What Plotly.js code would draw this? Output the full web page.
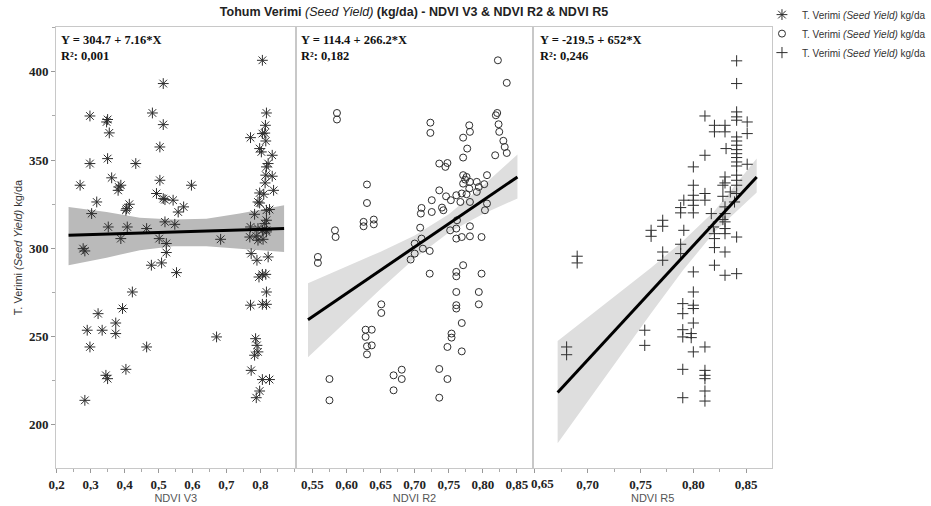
<!DOCTYPE html>
<html><head><meta charset="utf-8">
<script src="https://cdn.plot.ly/plotly-3.0.1.min.js"></script>
<style>html,body{margin:0;padding:0;background:#fff}#chart{width:931px;height:506px}</style>
</head><body><div id="chart"></div>
<script>
// ---- Data ----
const seriesName = 'T. Verimi <i>(Seed Yield)</i> kg/da';
const panelTitles = ['NDVI V3', 'NDVI R2', 'NDVI R5'];
const equations = ['Y = 304.7 + 7.16*X', 'Y = 114.4 + 266.2*X', 'Y = -219.5 + 652*X'];
const rSquared = ['R²: 0,001', 'R²: 0,182', 'R²: 0,246'];

// Tick positions / labels of each panel
const v3Ticks = [0.2, 0.3, 0.4, 0.5, 0.6, 0.7, 0.8];
const v3TickText = ['0,2', '0,3', '0,4', '0,5', '0,6', '0,7', '0,8'];
const r2Ticks = [0.55, 0.60, 0.65, 0.70, 0.75, 0.80, 0.85];
const r2TickText = ['0,55', '0,60', '0,65', '0,70', '0,75', '0,80', '0,85'];
const r5Ticks = [0.65, 0.70, 0.75, 0.80, 0.85];
const r5TickText = ['', '0,70', '0,75', '0,80', '0,85'];
const r5FirstLabel = '0,65';   // drawn just right of its tick, as in the reference
const yTicks = [200, 250, 300, 350, 400];

const v3X = [0.806,0.514,0.298,0.350,0.347,0.355,0.482,0.514,0.504,0.818,0.815,0.806,0.813,0.816,0.771,0.798,0.803,0.835,0.823,0.818,0.835,0.816,0.814,0.839,0.798,0.810,0.793,0.798,0.818,0.827,0.783,0.818,0.771,0.793,0.806,0.818,0.298,0.350,0.433,0.504,0.362,0.269,0.389,0.383,0.381,0.597,0.494,0.514,0.519,0.543,0.318,0.414,0.406,0.404,0.574,0.558,0.303,0.519,0.548,0.352,0.408,0.465,
  0.278,0.283,0.389,0.502,0.523,0.523,0.509,0.479,0.553,0.683,0.769,0.788,0.793,0.808,0.818,0.813,0.773,0.790,0.823,0.796,0.806,0.816,0.818,0.771,0.806,0.818,0.423,0.394,0.322,0.374,0.290,0.334,0.374,0.298,0.465,0.671,0.786,0.790,0.793,0.783,0.773,0.404,0.345,0.350,0.806,0.827,0.798,0.788,0.283];
const v3Y = [406.6,393.4,375.0,373.0,371.6,365.4,376.7,370.1,357.4,376.7,369.7,365.0,365.3,360.8,362.7,356.5,354.6,352.7,348.0,346.1,340.8,341.4,337.0,332.8,331.3,330.6,326.2,325.6,321.5,321.9,319.2,315.8,312.0,311.1,310.1,310.1,348.0,350.8,348.0,338.5,339.9,335.7,335.7,334.7,332.8,335.7,331.0,328.1,327.5,327.2,326.2,324.9,322.4,321.5,323.4,320.5,319.6,314.9,313.5,312.0,312.0,311.1,
  299.7,298.4,305.4,305.4,302.6,297.5,291.6,290.3,286.1,305.0,306.3,306.9,304.5,305.0,309.2,313.9,296.9,293.1,295.0,283.6,285.1,285.1,275.1,267.6,268.1,268.1,275.1,265.7,262.8,257.5,253.4,253.4,251.5,243.9,243.9,249.6,248.6,244.8,241.1,239.2,230.6,231.2,227.8,225.9,225.4,225.4,218.9,215.1,213.6];

const r2X = [0.822,0.835,0.586,0.586,0.821,0.819,0.823,0.824,0.830,0.832,0.835,0.818,0.723,0.723,0.780,0.781,0.771,0.777,0.771,0.736,0.745,0.748,0.630,0.630,0.771,0.774,0.771,0.776,0.806,0.802,0.791,0.794,0.791,0.781,0.780,0.769,0.776,0.781,0.736,0.746,0.753,0.761,0.767,0.725,0.740,0.742,0.725,0.710,0.709,0.806,0.803,0.625,0.640,0.625,0.640,0.583,0.584,0.708,0.762,0.781,0.798,0.752,0.761,0.781,0.761,0.769,
  0.558,0.558,0.700,0.710,0.712,0.700,0.694,0.722,0.771,0.761,0.761,0.798,0.722,0.761,0.794,0.761,0.761,0.794,0.651,0.651,0.769,0.628,0.637,0.628,0.754,0.754,0.630,0.637,0.630,0.748,0.769,0.681,0.669,0.681,0.736,0.748,0.575,0.669,0.575,0.736];
const r2Y = [406.6,393.8,376.7,373.0,376.7,375.4,370.3,366.0,360.9,357.4,354.0,352.7,371.2,365.4,369.7,366.0,362.7,356.5,351.4,348.0,346.1,348.3,336.1,325.6,341.4,338.9,336.6,340.4,341.4,336.3,337.6,334.7,331.9,337.6,333.8,331.0,330.6,326.2,332.8,329.4,327.2,330.0,326.2,327.2,323.0,321.5,320.5,322.8,319.6,325.3,321.5,314.9,316.2,312.4,313.5,310.1,306.3,311.6,315.8,312.4,306.3,310.1,305.4,306.7,311.1,306.3,
  295.0,291.6,302.6,305.4,299.7,296.9,293.5,298.4,290.3,286.5,284.0,285.5,285.5,275.1,275.1,267.6,265.7,268.1,268.1,263.2,257.5,253.7,253.7,249.6,251.5,249.2,244.3,244.8,239.7,243.9,241.4,231.0,227.8,225.7,231.4,225.7,225.7,219.3,213.6,215.1];

const r5X = [0.841,0.841,0.841,0.841,0.841,0.811,0.851,0.851,0.820,0.820,0.830,0.830,0.841,0.841,0.841,0.841,0.841,0.841,0.841,0.841,0.831,0.811,0.851,0.800,0.841,0.841,0.841,0.830,0.830,0.828,0.835,0.841,0.839,0.800,0.811,0.811,0.800,0.800,0.800,0.791,0.828,0.788,0.788,0.800,0.817,0.830,0.830,0.828,0.771,0.771,0.760,0.760,0.791,0.819,0.820,0.830,0.830,0.830,0.841,0.820,
  0.690,0.690,0.771,0.771,0.788,0.788,0.800,0.820,0.820,0.830,0.830,0.841,0.800,0.790,0.790,0.800,0.800,0.800,0.754,0.754,0.790,0.790,0.798,0.798,0.800,0.811,0.680,0.680,0.790,0.811,0.811,0.811,0.811,0.811,0.790];
const r5Y = [406.3,393.4,377.3,374.5,372.6,375.0,371.6,365.0,369.7,366.0,369.7,366.0,363.1,360.8,358.4,355.9,353.6,351.4,348.9,346.6,356.5,352.7,347.6,346.1,341.4,338.5,335.7,340.4,337.0,335.7,331.9,331.0,326.2,335.7,331.0,327.2,330.0,327.2,324.3,327.2,329.4,323.0,320.0,320.0,319.6,323.4,319.6,316.2,315.8,312.4,310.1,306.7,310.1,312.0,308.2,314.9,311.1,308.2,306.3,305.4,
  295.4,291.6,297.8,293.1,302.2,296.9,286.5,300.3,290.3,297.8,284.6,285.5,275.1,268.5,262.8,267.6,265.7,257.5,253.4,244.8,253.7,249.6,251.5,249.2,241.1,243.9,243.9,239.5,231.2,230.6,227.8,225.9,218.9,213.2,215.1];

// Regression lines (end points)
const v3FitX = [0.235, 0.870], v3FitY = [307.3, 311.1];
const r2FitX = [0.5435, 0.8507], r2FitY = [259.4, 340.4];
const r5FitX = [0.6715, 0.860], r5FitY = [218.0, 340.4];

// Confidence bands (upper / lower edges)
const v3BandX = [0.235, 0.347, 0.445, 0.543, 0.641, 0.739, 0.870];
const v3BandUp = [323.4, 320.5, 317.3, 316.2, 316.6, 319.6, 324.3];
const v3BandLo = [290.3, 294.6, 298.8, 301.1, 301.1, 299.7, 297.8];
const r2BandX = [0.5435, 0.60, 0.65, 0.70, 0.75, 0.80, 0.8507];
const r2BandUp = [280.1, 289.5, 298.0, 307.2, 319.2, 335.4, 353.2];
const r2BandLo = [238.1, 258.7, 276.8, 294.2, 308.9, 319.4, 328.2];
const r5BandX = [0.6715, 0.70, 0.73, 0.76, 0.79, 0.82, 0.860];
const r5BandUp = [247.3, 260.6, 274.7, 288.9, 303.9, 321.1, 350.9];
const r5BandLo = [189.3, 213.2, 238.3, 263.1, 287.3, 309.1, 331.5];

// ---- Traces ----
const markColor = '#2e2e2e';
function band(xs, up, lo, color, xa, ya) {
  return {x: xs.concat(xs.slice().reverse()), y: up.concat(lo.slice().reverse()),
    xaxis: xa, yaxis: ya, type: 'scatter', mode: 'lines', fill: 'toself', fillcolor: color,
    line: {width: 0, color: color}, showlegend: false, hoverinfo: 'skip'};
}
function fit(xs, ys, xa, ya) {
  return {x: xs, y: ys, xaxis: xa, yaxis: ya, type: 'scatter', mode: 'lines',
    line: {color: '#000', width: 3}, showlegend: false, hoverinfo: 'skip'};
}
function pts(xs, ys, xa, ya, sym, size) {
  return {x: xs, y: ys, xaxis: xa, yaxis: ya, type: 'scatter', mode: 'markers', name: seriesName,
    marker: {symbol: sym, size: size, color: markColor, line: {color: markColor, width: 1}}};
}
const traces = [
  band(v3BandX, v3BandUp, v3BandLo, '#bababa', 'x', 'y'),
  band(r2BandX, r2BandUp, r2BandLo, '#dedede', 'x2', 'y2'),
  band(r5BandX, r5BandUp, r5BandLo, '#dedede', 'x3', 'y3'),
  pts(v3X, v3Y, 'x', 'y', 'asterisk-open', 9),
  pts(r2X, r2Y, 'x2', 'y2', 'circle-open', 7),
  pts(r5X, r5Y, 'x3', 'y3', 'cross-thin-open', 8),
  fit(v3FitX, v3FitY, 'x', 'y'),
  fit(r2FitX, r2FitY, 'x2', 'y2'),
  fit(r5FitX, r5FitY, 'x3', 'y3')
];

// ---- Layout ----
const tickFont = {family: 'Liberation Serif', size: 13, color: '#222', weight: 'bold'};
const titleFont = {family: 'Liberation Sans', size: 11, color: '#555'};
const lineCol = '#c8c8c8';
function xax(domain, range, tickvals, ticktext, minor, title) {
  return {domain: domain, range: range, tickmode: 'array', tickvals: tickvals, ticktext: ticktext,
    showline: true, mirror: true, linecolor: lineCol, linewidth: 1, showgrid: false, zeroline: false,
    ticks: 'outside', ticklen: 4, tickcolor: '#999', tickfont: tickFont,
    minor: {dtick: minor, tick0: 0, ticks: 'outside', ticklen: 3, tickcolor: '#aaa', showgrid: false},
    title: {text: title, font: titleFont, standoff: 0}};
}
function yax(anchor, first) {
  const a = {anchor: anchor, range: [175.2, 425.5], showline: true, mirror: true, linecolor: lineCol, linewidth: 1,
    showgrid: false, zeroline: false};
  if (first) {
    Object.assign(a, {tickmode: 'array', tickvals: yTicks, ticks: 'outside', ticklen: 4, tickcolor: '#999', tickfont: tickFont,
      minor: {dtick: 25, tick0: 0, ticks: 'outside', ticklen: 3, tickcolor: '#aaa', showgrid: false},
      title: {text: seriesName, font: {family: 'Liberation Sans', size: 11, color: '#333'}, standoff: 4}});
  } else {
    Object.assign(a, {matches: 'y', showticklabels: false, ticks: ''});
  }
  return a;
}
const annFont = {family: 'Liberation Serif', size: 12.5, color: '#111'};
const annotations = ['x', 'x2', 'x3'].map((xa, i) => ({
  xref: xa + ' domain', yref: 'paper', x: 0, y: 1, xanchor: 'left', yanchor: 'top', xshift: 3 + (i === 2 ? 2 : 0), yshift: -4,
  align: 'left', showarrow: false, font: annFont,
  text: '<b>' + equations[i] + '</b><br><b>' + rSquared[i] + '</b>'
}));
annotations.push({xref: 'x3', yref: 'paper', x: r5Ticks[0], y: 0, xanchor: 'center', yanchor: 'top',
  xshift: 8, yshift: -6, showarrow: false, font: tickFont, text: r5FirstLabel});

const layout = {
  width: 931, height: 506,
  margin: {l: 56, r: 159, t: 27, b: 38, autoexpand: false},
  paper_bgcolor: '#fff', plot_bgcolor: '#fff',
  title: {text: '<b>Tohum Verimi </b><i>(Seed Yield)</i><b> (kg/da) - NDVI V3 &amp; NDVI R2 &amp; NDVI R5</b>',
    font: {family: 'Liberation Sans', size: 12.5, color: '#222'}, xref: 'paper', x: 0.5, xanchor: 'center',
    yref: 'container', y: 0.978, yanchor: 'middle'},
  xaxis: xax([0, 0.3347], [0.198, 0.904], v3Ticks, v3TickText, 0.05, panelTitles[0]),
  xaxis2: Object.assign(xax([0.3347, 0.6667], [0.5254, 0.874], r2Ticks, r2TickText, 0.025, panelTitles[1]), {anchor: 'y2'}),
  xaxis3: Object.assign(xax([0.6667, 1], [0.6485, 0.8745], r5Ticks, r5TickText, 0.025, panelTitles[2]), {anchor: 'y3'}),
  yaxis: yax('x', true),
  yaxis2: yax('x2', false),
  yaxis3: yax('x3', false),
  showlegend: true,
  legend: {x: 0.986, xanchor: 'left', y: 1.061, yanchor: 'top', bgcolor: 'rgba(0,0,0,0)',
    font: {family: 'Liberation Sans', size: 10, color: '#333'}, tracegroupgap: 0},
  annotations: annotations,
  hovermode: false
};
Plotly.newPlot('chart', traces, layout, {displayModeBar: false, staticPlot: true});
</script>
</body></html>
